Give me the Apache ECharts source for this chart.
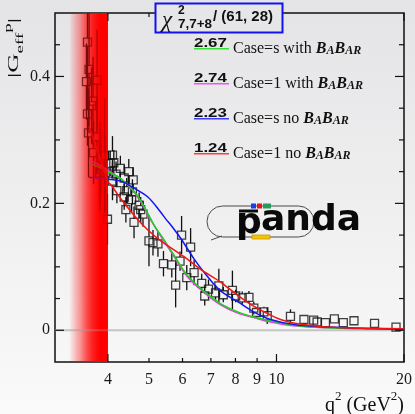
<!DOCTYPE html>
<html><head><meta charset="utf-8">
<script src="https://cdn.jsdelivr.net/npm/echarts@6/dist/echarts.min.js"></script>
<style>html,body{margin:0;padding:0;background:#f0f0f0}#c{width:415px;height:414px}</style>
</head><body><div id="c"></div>
<script>
// ---- data ----
const pointQ2 = [3.58,3.61,3.56,3.77,3.69,3.66,3.58,3.60,3.77,3.70,3.83,3.93,3.82,3.94,3.85,3.99,
  4.05,4.10,4.13,4.28,4.48,4.18,4.37,4.59,4.10,4.20,4.43,4.57,4.37,4.55,4.74,4.78,4.84,4.41,4.61,
  5.00,5.11,5.25,5.41,5.66,5.97,6.27,5.78,6.14,6.39,5.92,6.66,6.77,6.91,7.18,7.31,7.49,7.87,8.01,8.30,8.61,8.84,8.97,9.34,9.51,10.79,11.61,12.24,12.47,13.05,13.70,14.38,15.24,17.04,19.15];
const pointG = [0.454,0.411,0.392,0.394,0.361,0.354,0.341,0.311,0.305,0.280,0.259,0.275,0.248,0.248,0.255,0.175,
  0.263,0.276,0.264,0.255,0.250,0.246,0.240,0.237,0.235,0.220,0.220,0.218,0.210,0.206,0.197,0.190,0.183,0.190,0.170,
  0.141,0.138,0.136,0.105,0.103,0.150,0.131,0.071,0.083,0.091,0.109,0.074,0.054,0.065,0.059,0.070,0.056,0.063,0.054,0.051,0.052,0.035,0.028,0.029,0.023,0.022,0.017,0.016,0.013,0.012,0.018,0.012,0.015,0.011,0.005];
const pointErr = [0.07,0.10,0.06,0.08,0.07,0.06,0.05,0.07,0.06,0.05,0.07,0.09,0.05,0.06,0.04,0.04,
  0.02,0.03,0.02,0.02,0.02,0.02,0.02,0.02,0.03,0.02,0.02,0.02,0.02,0.02,0.02,0.02,0.02,0.02,0.025,
  0.04,0.02,0.02,0.02,0.02,0.03,0.03,0.035,0.02,0.02,0.015,0.015,0.015,0.015,0.012,0.027,0.012,0.031,0.01,0.01,0.01,0.01,0.008,0.008,0.013,0.011,0.006,0.006,0.006,0.006,0.006,0.005,0.005,0.005,0.005];

const greenQ2 = [3.61,3.81,4.02,4.29,4.61,4.86,5.13,5.42,5.72,6.17,6.73,7.38,8.10,8.83,9.68,10.97,13.19,16.65,20];
const greenG  = [0.264,0.257,0.249,0.239,0.219,0.196,0.167,0.143,0.119,0.086,0.062,0.042,0.029,0.021,0.015,0.008,0.004,0.0024,0.0016];
const magentaQ2 = [3.61,3.81,4.02,4.29,4.61,4.86,5.13,5.42,5.72,6.17,6.73,7.38,8.10,8.83,9.68,10.97,13.19,16.65,20];
const magentaG  = [0.268,0.261,0.251,0.239,0.218,0.194,0.166,0.141,0.117,0.084,0.060,0.040,0.027,0.020,0.013,0.007,0.0038,0.0022,0.0016];
const blueQ2 = [3.61,3.81,4.02,4.29,4.61,4.97,5.33,5.50,5.63,5.94,6.38,6.81,7.38,8.10,8.83,9.68,11.0,13.19,16.65,20];
const blueG  = [0.241,0.239,0.238,0.235,0.224,0.210,0.186,0.174,0.166,0.145,0.113,0.088,0.062,0.045,0.029,0.017,0.009,0.005,0.0027,0.0016];
const redQ2 = [3.61,3.81,4.00,4.07,4.23,4.41,4.71,4.97,5.33,6.05,6.62,7.38,8.10,8.83,9.68,10.22,10.97,13.19,16.65,20];
const redG  = [0.321,0.276,0.234,0.229,0.213,0.197,0.174,0.158,0.141,0.116,0.096,0.076,0.055,0.038,0.024,0.017,0.0115,0.005,0.003,0.0024];

const bandQ2 = [3.24, 4.0];
const xRange = [3, 20];
const yRange = [-0.05, 0.5];
const xLabelTicks = [4,5,6,7,8,9,10,20];
const xMajorTicks = [4,10,20];
const xMinorTicks = [5,6,7,8,9];
const yLabelTicks = [0,0.2,0.4];
const yMinorTicks = [0.05,0.1,0.15,0.25,0.3,0.35,0.45];
const zeroLine = [[3,0],[20,0]];

const legendNums = ['2.67','2.74','2.23','1.24'];
const legendLabels = ['Case=s with','Case=1 with','Case=s no','Case=1 no'];
const chiTitle = {sym:'χ', sup:'2', sub:'7,7+8', rest:'/ (61, 28)'};

// ---- styles ----
const curveColors = {green:'#19d219', magenta:'#e23fe2', blue:'#1414f5', red:'#f21414'};
const legendColors = ['#33e033','#ee55ee','#3b3bff','#ff3b3b'];
const serif = '"Liberation Serif","Times New Roman",serif';
const sans = '"Liberation Sans",Arial,sans-serif';

const chart = echarts.init(document.getElementById('c'));

function bandSeries(stops, z) {
  return {
    type:'custom', z:z, silent:true, clip:true,
    data:[[bandQ2[0], bandQ2[1]]], encode:{x:[0,1]},
    renderItem:(params, api) => {
      const p0 = api.coord([api.value(0), yRange[1]]);
      const p1 = api.coord([api.value(1), yRange[0]]);
      return {type:'rect', shape:{x:p0[0], y:p0[1], width:p1[0]-p0[0], height:p1[1]-p0[1]},
        style:{fill:new echarts.graphic.LinearGradient(0,0,1,0,stops)}};
    }
  };
}
function curve(qs, gs, color, z) {
  return {type:'line', z:z, data:qs.map((q,i)=>[q, gs[i]]), showSymbol:false, symbol:'none',
    smooth:0.35, clip:true, lineStyle:{color:color, width:1.5}, silent:true};
}
// inward tick marks on all four frame sides, placed through the axis scales
function xTickSeries(ticks, len) {
  return {type:'custom', z:8, clip:false, silent:true, data:ticks.map(t => [t, 0]), encode:{x:0, y:1},
    renderItem:(params, api) => {
      const b = api.coord([api.value(0), yRange[0]]), t = api.coord([api.value(0), yRange[1]]);
      const st = {stroke:'#111', lineWidth:1.2};
      return {type:'group', children:[
        {type:'line', shape:{x1:b[0], y1:b[1], x2:b[0], y2:b[1]-len}, style:st},
        {type:'line', shape:{x1:t[0], y1:t[1], x2:t[0], y2:t[1]+len}, style:st}]};
    }};
}
function yTickSeries(ticks, len) {
  return {type:'custom', z:8, clip:false, silent:true, data:ticks.map(v => [xRange[0], v]), encode:{x:0, y:1},
    renderItem:(params, api) => {
      const l = api.coord([xRange[0], api.value(1)]), r = api.coord([xRange[1], api.value(1)]);
      const st = {stroke:'#111', lineWidth:1.2};
      return {type:'group', children:[
        {type:'line', shape:{x1:l[0], y1:l[1], x2:l[0]+len, y2:l[1]}, style:st},
        {type:'line', shape:{x1:r[0], y1:r[1], x2:r[0]-len, y2:r[1]}, style:st}]};
    }};
}

const pts = pointQ2.map((q,i)=>[q, pointG[i], pointErr[i]]);

const option = {
  animation:false,
  backgroundColor:new echarts.graphic.LinearGradient(0,0,0,1,[{offset:0,color:'#e4e4e6'},{offset:1,color:'#fafafa'}]),
  grid:{left:55, right:11, top:13, bottom:52, show:true, borderColor:'#111', borderWidth:1.5, backgroundColor:'transparent'},
  xAxis:{
    type:'log', logBase:10, min:xRange[0], max:xRange[1], position:'bottom',
    axisLine:{show:false, onZero:false}, splitLine:{show:false}, minorTick:{show:false}, axisTick:{show:false},
    axisLabel:{show:true, customValues:xLabelTicks, margin:10, color:'#1a1a1a', fontFamily:serif, fontSize:16,
      formatter: v => String(Math.round(v))}
  },
  yAxis:{
    type:'value', min:yRange[0], max:yRange[1], position:'left',
    axisLine:{show:false, onZero:false}, splitLine:{show:false}, axisTick:{show:false},
    axisLabel:{show:true, customValues:yLabelTicks, margin:5, color:'#1a1a1a', fontFamily:serif, fontSize:16,
      formatter: v => Math.abs(v) < 1e-9 ? '0' : v.toFixed(1)}
  },
  series:[
    bandSeries([{offset:0,color:'rgba(255,0,0,0)'},{offset:0.3,color:'rgba(255,0,0,0.22)'},{offset:0.6,color:'rgba(255,0,0,0.65)'},{offset:0.8,color:'rgba(255,0,0,1)'},{offset:1,color:'rgba(255,0,0,1)'}], 1),
    {type:'line', z:2, data:zeroLine, symbol:'none', lineStyle:{color:'#c4c4c4', width:2}, silent:true},
    {type:'custom', z:3, clip:true, silent:true, data:pts, encode:{x:0, y:1},
      renderItem:(params, api) => {
        const q = api.value(0), g = api.value(1), e = api.value(2);
        const c = api.coord([q, g]), t = api.coord([q, g+e]), b = api.coord([q, g-e]);
        const h = 4, ch = [];
        const st = {stroke:'#111', lineWidth:1.3};
        if (c[1]-h > t[1]) ch.push({type:'line', shape:{x1:c[0], y1:t[1], x2:c[0], y2:c[1]-h}, style:st});
        if (b[1] > c[1]+h) ch.push({type:'line', shape:{x1:c[0], y1:c[1]+h, x2:c[0], y2:b[1]}, style:st});
        return {type:'group', children:ch};
      }},
    {type:'scatter', z:4, data:pts, symbol:'rect', symbolSize:8, silent:true,
      itemStyle:{color:'rgba(0,0,0,0)', borderColor:'#111', borderWidth:1.3}},
    curve(magentaQ2, magentaG, curveColors.magenta, 5),
    curve(greenQ2, greenG, curveColors.green, 5),
    curve(blueQ2, blueG, curveColors.blue, 5),
    curve(redQ2, redG, curveColors.red, 5),
    bandSeries([{offset:0,color:'rgba(255,0,0,0)'},{offset:0.3,color:'rgba(255,0,0,0.25)'},{offset:0.6,color:'rgba(255,0,0,0.6)'},{offset:0.8,color:'rgba(255,0,0,0.75)'},{offset:1,color:'rgba(255,0,0,0.75)'}], 6),
    xTickSeries(xMajorTicks, 8),
    xTickSeries(xMinorTicks, 4),
    yTickSeries(yLabelTicks, 9),
    yTickSeries(yMinorTicks, 5)
  ],
  graphic:[]
};

const g = [];
// chi-square box
g.push({type:'rect', z:100, shape:{x:155.5, y:3.5, width:127, height:29}, style:{fill:'#e6e6e8', stroke:'#1212ee', lineWidth:2}});
g.push({type:'text', z:101, x:162, y:21, style:{text:chiTitle.sym, font:'italic 23px '+serif, fill:'#111', verticalAlign:'middle'}});
g.push({type:'text', z:101, x:178, y:11, style:{text:chiTitle.sup, font:'bold 12px '+sans, fill:'#111', verticalAlign:'middle'}});
g.push({type:'text', z:101, x:178, y:24.5, scaleX:1.12, style:{text:chiTitle.sub, font:'bold 12px '+sans, fill:'#111', verticalAlign:'middle'}});
g.push({type:'text', z:101, x:213, y:17, style:{text:chiTitle.rest, font:'bold 15px '+sans, fill:'#111', verticalAlign:'middle'}});
// legend rows
legendNums.forEach((n,i) => {
  const y0 = 43.5 + 35*i;
  g.push({type:'text', z:101, x:194, y:y0, scaleX:1.3, style:{text:n, font:'bold 13px '+sans, fill:'#111', verticalAlign:'middle'}});
  g.push({type:'line', z:101, shape:{x1:194, y1:y0+5.2, x2:229, y2:y0+5.2}, style:{stroke:legendColors[i], lineWidth:1.6}});
  g.push({type:'text', z:101, x:233, y:47.5+35*i, style:{
    text:'{n|'+legendLabels[i]+' }{B|B}{a|A}{B|B}{a|AR}', verticalAlign:'middle',
    rich:{
      n:{font:'16px '+serif, fill:'#111', lineHeight:18, verticalAlign:'bottom'},
      B:{font:'italic bold 16px '+serif, fill:'#111', lineHeight:18, verticalAlign:'bottom'},
      a:{font:'italic bold 12px '+serif, fill:'#111', lineHeight:15.5, verticalAlign:'bottom'}
    }}});
});
// axis titles
g.push({type:'text', z:101, x:404, y:390, style:{
  text:'{n|q}{s|2}{n| (GeV}{s|2}{n|)}', align:'right', verticalAlign:'top',
  rich:{n:{font:'20px '+serif, fill:'#111', lineHeight:26, verticalAlign:'bottom'},
        s:{font:'13px '+serif, fill:'#111', lineHeight:10, verticalAlign:'top'}}}});
g.push({type:'text', z:101, x:14, y:48, rotation:Math.PI/2, scaleX:1.9, style:{
  text:'{n||G}{b|eff}{t|p}{n||}', align:'center', verticalAlign:'middle',
  rich:{n:{font:'14px '+serif, fill:'#111', lineHeight:22, verticalAlign:'middle'},
        b:{font:'10px '+serif, fill:'#111', lineHeight:9, verticalAlign:'bottom'},
        t:{font:'10px '+serif, fill:'#111', lineHeight:9, verticalAlign:'top'}}}});
// panda logo
g.push({type:'rect', z:90, shape:{x:207, y:206, width:107, height:31, r:15.5}, style:{fill:'none', stroke:'#4a4a4a', lineWidth:1}});
g.push({type:'polyline', z:90, shape:{points:[[211,240],[222,236]]}, style:{stroke:'#4a4a4a', lineWidth:1, fill:'none'}});
const shadow = {shadowBlur:7, shadowColor:'rgba(0,0,0,0.45)', shadowOffsetX:6, shadowOffsetY:8};
g.push({type:'text', z:91, x:236, y:223.5, style:Object.assign({text:'p', font:'bold 36px "DejaVu Sans"', fill:'#0a0a0a', verticalAlign:'middle'}, shadow)});
g.push({type:'text', z:91, x:261, y:220.5, style:Object.assign({text:'anda', font:'bold 36px "DejaVu Sans"', fill:'#0a0a0a', verticalAlign:'middle'}, shadow)});
g.push({type:'rect', z:92, shape:{x:239, y:209.5, width:19, height:3}, style:{fill:'#0a0a0a'}});
g.push({type:'rect', z:92, shape:{x:251, y:203.5, width:5, height:5}, style:{fill:'#1a3cf0'}});
g.push({type:'rect', z:92, shape:{x:257, y:203.5, width:5, height:5}, style:{fill:'#e01818'}});
g.push({type:'rect', z:92, shape:{x:263, y:203.5, width:8, height:5}, style:{fill:'#2a9a5a'}});
g.push({type:'rect', z:92, shape:{x:252, y:235, width:18, height:4}, style:{fill:'#f5c400', stroke:'#c89a00', lineWidth:0.8}});
option.graphic = g;

chart.setOption(option);
</script>
</body></html>
